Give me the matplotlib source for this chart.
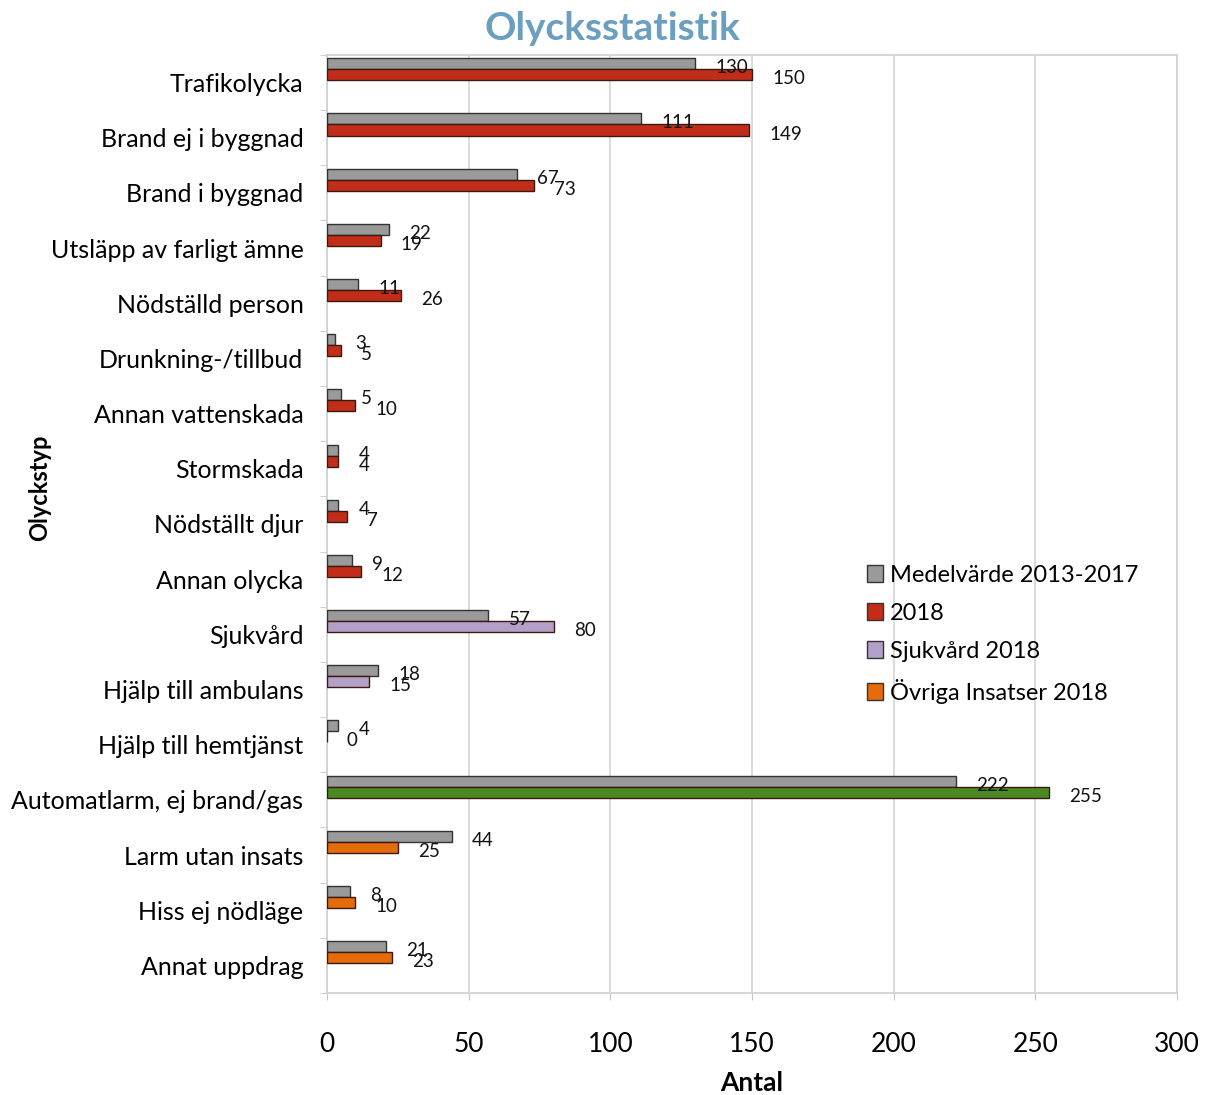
import numpy as np
import matplotlib.pyplot as plt
from matplotlib.patches import Patch

plt.rcParams['font.family'] = ['Lato', 'DejaVu Sans']

categories = ['Trafikolycka', 'Brand ej i byggnad', 'Brand i byggnad',
              'Utsläpp av farligt ämne', 'Nödställd person', 'Drunkning-/tillbud',
              'Annan vattenskada', 'Stormskada', 'Nödställt djur', 'Annan olycka',
              'Sjukvård', 'Hjälp till ambulans', 'Hjälp till hemtjänst',
              'Automatlarm, ej brand/gas', 'Larm utan insats', 'Hiss ej nödläge',
              'Annat uppdrag']
medel = [130, 111, 67, 22, 11, 3, 5, 4, 4, 9, 57, 18, 4, 222, 44, 8, 21]
ar2018 = [150, 149, 73, 19, 26, 5, 10, 4, 7, 12, 80, 15, 0, 255, 25, 10, 23]
groups = ['red'] * 10 + ['lav'] * 3 + ['green'] + ['orange'] * 3

col = {'gray': '#9a9a9a', 'red': '#c22d1a', 'lav': '#b2a0c8',
       'green': '#4b8a22', 'orange': '#e46c0a'}
legend_names = [('gray', 'Medelvärde 2013-2017'), ('red', '2018'),
                ('lav', 'Sjukvård 2018'), ('orange', 'Övriga Insatser 2018')]

fig = plt.figure(figsize=(12.12, 10.95), dpi=100)
ax = fig.add_axes([0.2698, 0.0932, 0.7013, 0.8566])

y = np.arange(len(categories))
h = 0.2
ax.barh(y - 0.34, medel, height=h, color=col['gray'], edgecolor='#333333', linewidth=1, zorder=3)
ax.barh(y - 0.14, ar2018, height=h, color=[col[g] for g in groups],
        edgecolor='#3a1a10', linewidth=1, zorder=3)

for yi, v in zip(y, medel):
    ax.annotate(str(v), (v, yi - 0.34), xytext=(20, -4), textcoords='offset pixels',
                ha='left', va='center', fontsize=13.5, color='#111111', zorder=4)
for yi, v in zip(y, ar2018):
    ax.annotate(str(v), (v, yi - 0.14), xytext=(20, -4), textcoords='offset pixels',
                ha='left', va='center', fontsize=13.5, color='#111111', zorder=4)

ax.set_xlim(0, 300)
ax.set_ylim(len(categories) - 0.5, -0.5)
ax.set_xticks(np.arange(0, 301, 50))
ax.set_yticks(y)
ax.set_yticklabels(categories, fontsize=18)
ax.set_yticks(np.arange(-0.5, len(categories), 1), minor=True)
ax.tick_params(axis='y', which='major', length=0, pad=17)
ax.tick_params(axis='y', which='minor', length=5, color='#c8c8c8', direction='out')
ax.tick_params(axis='x', length=5, color='#c8c8c8', direction='out', labelsize=19, pad=23)

ax.grid(axis='x', color='#d4d4d4', linewidth=1.2, zorder=0)
for s in ax.spines.values():
    s.set_color('#d0d0d0')
    s.set_linewidth(1.2)

ax.set_xlabel('Antal', fontsize=19, fontweight='bold', labelpad=10)
ax.set_ylabel('Olyckstyp', fontsize=17, fontweight='bold')
ax.yaxis.set_label_coords(-0.324, 0.539)
fig.text(0.505, 0.974, 'Olycksstatistik', fontsize=28, fontweight='bold', color='#6a9fc0',
         ha='center', va='center')

handles = [Patch(facecolor=col[k], edgecolor='#333333', label=n) for k, n in legend_names]
ax.legend(handles=handles, loc='upper left', bbox_to_anchor=(0.61, 0.479), frameon=False,
          fontsize=17, handlelength=0.7, handleheight=0.7, handletextpad=0.3, labelspacing=0.72)

fig.savefig('out.png', dpi=100)
